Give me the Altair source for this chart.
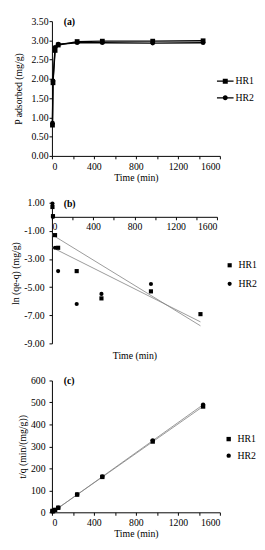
import altair as alt
import pandas as pd

FONT = "Liberation Serif, Times New Roman, serif"

# ---- data ----
times = [5, 10, 30, 60, 240, 480, 960, 1440]
series = ["HR1", "HR2"]
panel_labels = ["(a)", "(b)", "(c)"]

qa_hr1 = [0.80, 1.90, 2.74, 2.88, 2.97, 2.98, 2.98, 2.99]
qa_hr2 = [0.85, 1.95, 2.82, 2.90, 2.94, 2.94, 2.93, 2.94]

lnb_hr1 = [0.70, 0.05, -1.30, -2.20, -3.86, -5.80, -5.30, -6.92]
lnb_hr2 = [0.95, 0.00, -2.20, -3.86, -6.20, -5.48, -4.78]

tq_hr1 = [6.3, 5.3, 10.9, 20.8, 80.8, 161.1, 322.1, 481.6]
tq_hr2 = [5.9, 5.1, 10.6, 20.7, 81.6, 163.3, 327.6, 489.8]

fit_t = [5, 1440]
fitb_hr1 = [-1.29, -7.75]
fitb_hr2 = [-2.19, -7.47]
fitc_hr1 = [1.5, 482.0]
fitc_hr2 = [0.5, 490.0]

x_ticks = [0, 200, 400, 600, 800, 1000, 1200, 1400, 1600]
ya_ticks = [0, 0.5, 1.0, 1.5, 2.0, 2.5, 3.0, 3.5]
yb_ticks = [-9, -7, -5, -3, -1, 1]
yc_ticks = [0, 100, 200, 300, 400, 500, 600]


def long(t, s1, s2):
    rows = [{"t": a, "v": b, "s": series[0]} for a, b in zip(t, s1)]
    rows += [{"t": a, "v": b, "s": series[1]} for a, b in zip(t, s2)]
    return pd.DataFrame(rows)


df_a = long(times, qa_hr1, qa_hr2)
df_b = long(times, lnb_hr1, lnb_hr2)
df_c = long(times, tq_hr1, tq_hr2)
fit_b = long(fit_t, fitb_hr1, fitb_hr2)
fit_c = long(fit_t, fitc_hr1, fitc_hr2)

common_axis = dict(grid=False, domainColor="black", tickColor="black", tickSize=3,
                   labelFont=FONT, labelFontSize=10, labelColor="black",
                   titleFont=FONT, titleFontSize=10, titleFontWeight="normal",
                   titleColor="black", domainWidth=1, tickWidth=1)


def xaxis(**kw):
    d = dict(common_axis)
    d.update(values=x_ticks, format="d", title="Time (min)",
             labelExpr="datum.value % 400 == 0 ? datum.label : ''")
    d.update(kw)
    return alt.Axis(**d)


def yaxis(**kw):
    d = dict(common_axis)
    d.update(kw)
    return alt.Axis(**d)


def xenc(**kw):
    return alt.X("t:Q", scale=alt.Scale(domain=[0, 1600], nice=False), axis=xaxis(**kw))


def plabel(txt):
    return alt.Chart(pd.DataFrame({"lab": [txt]})).mark_text(
        font=FONT, fontSize=10, fontWeight="bold", color="black",
        align="left", baseline="middle").encode(
        x=alt.value(12), y=alt.value(1), text="lab:N")


legend_common = dict(orient="none", title=None, labelFont=FONT, labelFontSize=10,
                     labelColor="black", symbolFillColor="black", symbolStrokeWidth=0,
                     symbolOpacity=1)

# ---- panel (a) ----
ya = alt.Y("v:Q", scale=alt.Scale(domain=[0, 3.5], nice=False),
           axis=yaxis(values=ya_ticks, format=".2f", title="P adsorbed (mg/g)",
                      labelPadding=1, titlePadding=8))
xa = xenc(labelPadding=3, titlePadding=1)

line_a = alt.Chart(df_a).mark_line(color="black", strokeWidth=1.4).encode(
    x=xa, y=ya, detail="s:N")
pts_a = alt.Chart(df_a).mark_point(filled=True, color="black", opacity=1, size=24).encode(
    x=xa, y=ya,
    shape=alt.Shape("s:N", scale=alt.Scale(domain=series, range=["square", "circle"]),
                    legend=None))
sq_line = "M-1,-0.08H1V0.08H-1Z M-0.3,-0.3H0.3V0.3H-0.3Z"
ci_line = "M-1,-0.08H1V0.08H-1Z M0.3,0A0.3,0.3,0,1,1,-0.3,0A0.3,0.3,0,1,1,0.3,0Z"
leg_a = alt.Chart(df_a).mark_point(filled=True, color="black", opacity=1).encode(
    x=xa, y=ya,
    shape=alt.Shape("s:N", scale=alt.Scale(domain=series, range=[sq_line, ci_line]),
                    legend=alt.Legend(legendX=169, legendY=53, symbolSize=289,
                                      rowPadding=3, labelOffset=2, **legend_common))
).transform_filter("false")

panel_a = alt.layer(line_a, pts_a, leg_a, plabel(panel_labels[0])).resolve_scale(
    shape="independent").properties(width=172, height=138)

# ---- panel (b) ----
HB = 144
y0 = HB * 1 / 10
yb = alt.Y("v:Q", scale=alt.Scale(domain=[-9, 1], nice=False),
           axis=yaxis(values=yb_ticks, title="ln (qe-q) (mg/g)",
                      labelExpr="(datum.value < 0 ? '-' : '') + format(abs(datum.value), '.2f')",
                      labelPadding=5, titlePadding=3))
xb = xenc(offset=-(HB - y0), labelPadding=2, titleY=HB - y0 + 12, titleBaseline="middle")

fitl_b = alt.Chart(fit_b).mark_line(color="#808080", strokeWidth=0.8).encode(
    x=xb, y=yb, detail="s:N")
pts_b = alt.Chart(df_b).mark_point(filled=True, color="black", opacity=1, size=18).encode(
    x=xb, y=yb,
    shape=alt.Shape("s:N", scale=alt.Scale(domain=series, range=["square", "circle"]),
                    legend=alt.Legend(legendX=177, legendY=59, symbolSize=18,
                                      rowPadding=9, labelOffset=4, **legend_common)))
panel_b = alt.layer(fitl_b, pts_b, plabel(panel_labels[1])).properties(width=169, height=HB)

# ---- panel (c) ----
yc = alt.Y("v:Q", scale=alt.Scale(domain=[0, 600], nice=False),
           axis=yaxis(values=yc_ticks, format="d", title="t/q (min/(mg/g))",
                      labelPadding=4, titlePadding=3))
xc = xenc(labelPadding=3, titlePadding=1)
fitl_c = alt.Chart(fit_c).mark_line(color="#808080", strokeWidth=0.8).encode(
    x=xc, y=yc, detail="s:N")
pts_c = alt.Chart(df_c).mark_point(filled=True, color="black", opacity=1, size=20).encode(
    x=xc, y=yc,
    shape=alt.Shape("s:N", scale=alt.Scale(domain=series, range=["square", "circle"]),
                    legend=alt.Legend(legendX=176, legendY=55, symbolSize=20,
                                      rowPadding=7, labelOffset=4, **legend_common)))
panel_c = alt.layer(fitl_c, pts_c, plabel(panel_labels[2])).properties(width=172, height=135)

chart = alt.vconcat(panel_a, panel_b, panel_c, spacing=16).resolve_scale(
    x="independent", y="independent", shape="independent"
).properties(
    padding={"left": 3, "top": 2, "right": 0, "bottom": 0}
).configure(font=FONT, background="white").configure_view(stroke=None)

chart.save("out.html", embed_options={"renderer": "svg", "actions": False})
